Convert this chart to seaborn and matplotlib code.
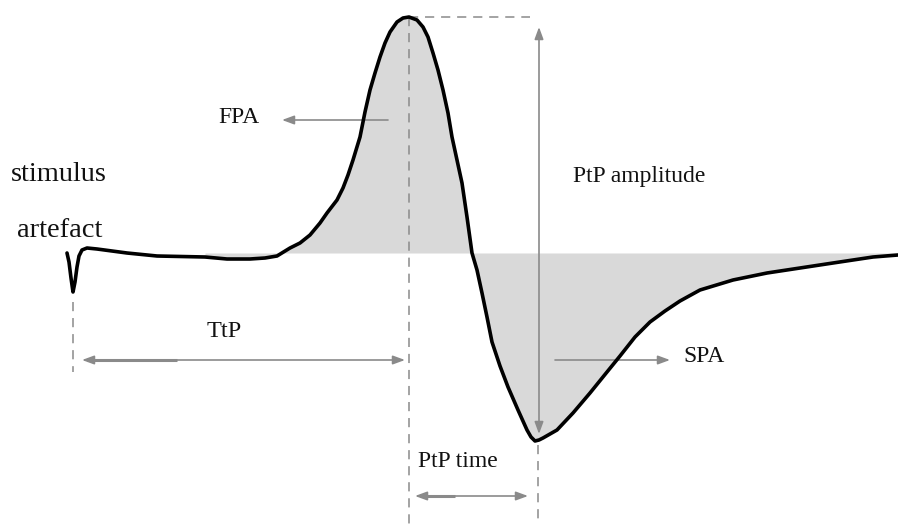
import matplotlib
matplotlib.use("Agg")
import matplotlib.pyplot as plt
import seaborn as sns
import pandas as pd

# ---- data (pixel units: x to the right, y downward) ----
trace_x = [67, 69, 71, 73, 75, 77, 79, 82, 87, 97, 127, 157, 205, 227, 250, 265, 277,
           290, 300, 310, 320, 327, 337, 343, 348, 353, 360, 365, 370, 375, 380,
           385, 390, 397, 403, 409, 417, 423, 428, 433, 438, 443, 448, 452, 457,
           462, 467, 472, 477, 482, 487, 492, 500, 508, 518, 527, 531, 535, 539,
           543, 550, 557, 573, 590, 607, 620, 635, 650, 665, 680, 700, 733, 767,
           800, 833, 873, 898]
trace_y = [253, 262, 278, 292, 282, 267, 256, 250, 248, 249, 253, 256, 257, 259, 259, 258, 256,
           248, 243, 235, 223, 213, 200, 188, 175, 160, 137, 112, 90, 73, 57,
           43, 32, 22, 18, 17, 20, 27, 37, 53, 70, 90, 113, 137, 160,
           183, 217, 253, 270, 293, 317, 342, 366, 387, 410, 430, 437, 441, 440,
           438, 434, 430, 413, 393, 372, 356, 337, 322, 311, 301, 290, 280, 273,
           268, 263, 257, 255]
baseline_y = 253
fill_start_x = 205

labels = ["stimulus", "artefact", "FPA", "TtP", "PtP amplitude", "PtP time", "SPA"]
label_x = [11, 17, 218, 207, 573, 418, 683]
label_y = [181, 237, 123, 337, 182, 467, 362]
label_size = [20.5, 20.5, 17, 17.5, 17, 17, 17]

df = pd.DataFrame({"x": trace_x, "y": trace_y})

sns.set_style("white")
plt.rcParams["font.family"] = ["Liberation Serif", "DejaVu Serif"]

fig = plt.figure(figsize=(8.98, 5.24), dpi=100)
ax = fig.add_axes([0, 0, 1, 1])

# shaded areas between trace and baseline
sub = df[df["x"] >= fill_start_x]
ax.fill_between(sub["x"], sub["y"], baseline_y, color="#d9d9d9", lw=0, zorder=1)

# dashed guide lines
gray = "#8a8a8a"
dash_kw = dict(color=gray, lw=1.1, dashes=(6, 4.5), zorder=2)
peak = df.loc[df["y"].idxmin()]
trough = df.loc[df[df["x"] > 450]["y"].idxmax()]
art = df.loc[df[df["x"] < 100]["y"].idxmax()]
ax.plot([art["x"], art["x"]], [art["y"] + 10, 372], **dash_kw)
ax.plot([peak["x"], peak["x"]], [peak["y"], 524], **dash_kw)
ax.plot([peak["x"], 530], [peak["y"], peak["y"]], **dash_kw)
ax.plot([trough["x"] + 3, trough["x"] + 3], [trough["y"] + 4, 524], **dash_kw)

# the trace
sns.lineplot(data=df, x="x", y="y", sort=False, estimator=None, color="black",
             lw=2.6, ax=ax, zorder=4)
for ln in ax.lines[-1:]:
    ln.set_solid_joinstyle("round")
ax.set_xlim(0, 898)
ax.set_ylim(524, 0)
ax.axis("off")

# arrows
def arrow(x0, y0, x1, y1, both=False):
    style = ("<|-|>" if both else "-|>") + ",head_length=0.6,head_width=0.22"
    ax.annotate("", xy=(x1, y1), xytext=(x0, y0),
                arrowprops=dict(arrowstyle=style, fc=gray, ec=gray, lw=1.2,
                                shrinkA=0, shrinkB=0, mutation_scale=12),
                zorder=3)

arrow(388, 120, 282, 120)             # FPA
arrow(555, 360, 670, 360)             # SPA
arrow(539, 434, 539, 27, both=True)   # PtP amplitude
arrow(82, 360, 405, 360, both=True)   # TtP
arrow(415, 496, 528, 496, both=True)  # PtP time
# thicker segments on the left of the time arrows
ax.plot([87, 177], [360, 360], color=gray, lw=2.2, solid_capstyle="butt", zorder=3)
ax.plot([420, 455], [496, 496], color=gray, lw=2.2, solid_capstyle="butt", zorder=3)

for t, x, y, s in zip(labels, label_x, label_y, label_size):
    ax.text(x, y, t, fontsize=s, ha="left", va="baseline", color="#111111", zorder=5)

fig.savefig("out.png", dpi=100)
